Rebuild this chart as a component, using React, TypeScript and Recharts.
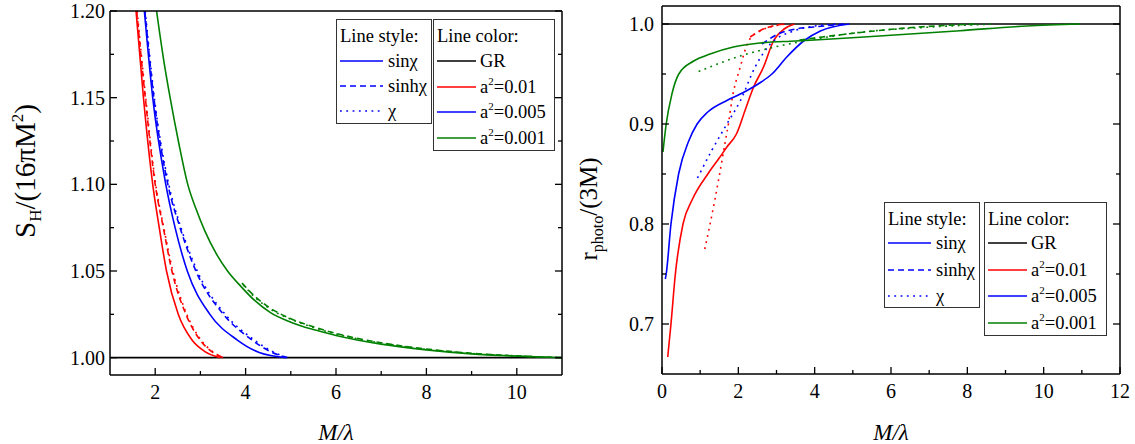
import React from "react";
import { LineChart, Line, XAxis, YAxis, Label } from "recharts";

const FONT = "'Liberation Serif', 'Times New Roman', serif";
const RED = "#ff0000";
const BLUE = "#0000ff";
const GREEN = "#008000";
const DASH = "6 4";
const DOT = "1.8 4.5";

// ---- left panel: S_H/(16 pi M^2) vs M/lambda ----
const areaXMajor = [2, 4, 6, 8, 10];
const areaXMinor = [3, 5, 7, 9];
const areaYMajor = [1.0, 1.05, 1.1, 1.15, 1.2];
const areaYMinor = [1.025, 1.075, 1.125, 1.175];

const areaGR = [[1, 1], [11, 1]];
const areaRedSin = [[1.576, 1.2], [1.74, 1.15], [1.945, 1.1], [2.09, 1.075], [2.25, 1.05], [2.51, 1.025], [2.81, 1.0103], [3.1, 1.0035], [3.44, 1.0]];
const areaRedSinh = [[1.59, 1.2], [1.78, 1.15], [2.0, 1.1], [2.18, 1.075], [2.37, 1.05], [2.68, 1.025], [2.97, 1.011], [3.25, 1.0035], [3.51, 1.0]];
const areaRedChi = [[1.6, 1.2], [1.79, 1.15], [2.01, 1.1], [2.19, 1.075], [2.39, 1.05], [2.7, 1.025], [2.99, 1.011], [3.27, 1.0035], [3.5, 1.0]];
const areaBlueSin = [[1.76, 1.2], [1.945, 1.15], [2.22, 1.102], [2.44, 1.075], [2.71, 1.05], [3.21, 1.025], [3.81, 1.0103], [4.3, 1.003], [4.91, 1.0]];
const areaBlueSinh = [[1.77, 1.2], [1.97, 1.15], [2.28, 1.1], [2.55, 1.075], [2.9, 1.05], [3.51, 1.025], [4.1, 1.011], [4.55, 1.0035], [4.93, 1.0]];
const areaBlueChi = [[1.78, 1.2], [1.98, 1.15], [2.3, 1.1], [2.57, 1.075], [2.93, 1.05], [3.55, 1.025], [4.15, 1.011], [4.6, 1.0035], [4.92, 1.0]];
const areaGreenSin = [[2.03, 1.2], [2.18, 1.173], [2.33, 1.15], [2.52, 1.124], [2.72, 1.1], [2.9, 1.086], [3.1, 1.073], [3.35, 1.06], [3.6, 1.05], [3.9, 1.041], [4.2, 1.033], [4.55, 1.026], [5.0, 1.0205], [5.5, 1.0162], [6.0, 1.0128], [7.0, 1.0078], [8.0, 1.0045], [9.0, 1.0022], [10.0, 1.0009], [11.0, 1.0]];
const areaGreenSinh = [[3.92, 1.043], [4.2, 1.0355], [4.55, 1.0285], [5.0, 1.0225], [5.5, 1.0178], [6.0, 1.014], [7.0, 1.0086], [8.0, 1.005], [9.0, 1.0025], [10.0, 1.001], [11.0, 1.0]];
const areaGreenChi = [[3.95, 1.042], [4.2, 1.035], [4.55, 1.028], [5.0, 1.0222], [5.5, 1.0175], [6.0, 1.0137], [7.0, 1.0084], [8.0, 1.0048], [9.0, 1.0024], [10.0, 1.001], [11.0, 1.0]];

// ---- right panel: r_photo/(3M) vs M/lambda ----
const photoXMajor = [0, 2, 4, 6, 8, 10, 12];
const photoXMinor = [1, 3, 5, 7, 9, 11];
const photoYMajor = [0.7, 0.8, 0.9, 1.0];
const photoYMinor = [0.75, 0.85, 0.95];

const photoGR = [[0, 1], [12, 1]];
const photoRedSin = [[0.15, 0.667], [0.235, 0.7], [0.35, 0.75], [0.55, 0.8], [0.8, 0.825], [1.2, 0.85], [1.5, 0.866], [1.7, 0.877], [1.95, 0.89], [2.18, 0.914], [2.4, 0.937], [2.66, 0.957], [2.92, 0.983], [3.2, 0.995], [3.47, 1.0]];
const photoRedSinh = [[2.31, 0.987], [2.6, 0.994], [2.9, 0.998], [3.25, 1.0]];
const photoRedChi = [[1.12, 0.775], [1.26, 0.8], [1.51, 0.85], [1.66, 0.883], [1.74, 0.9], [1.83, 0.9235], [2.05, 0.957], [2.27, 0.983], [2.57, 0.993], [3.27, 1.0]];
const photoBlueSin = [[0.087, 0.745], [0.11, 0.75], [0.235, 0.8], [0.435, 0.85], [0.7, 0.883], [0.92, 0.9], [1.2, 0.912], [1.7, 0.9235], [2.0, 0.929], [2.23, 0.9335], [2.6, 0.942], [2.88, 0.95], [3.27, 0.967], [3.71, 0.983], [4.15, 0.993], [4.91, 1.0]];
const photoBlueSinh = [[2.62, 0.98], [3.1, 0.991], [3.5, 0.995], [3.97, 0.997], [4.8, 1.0]];
const photoBlueChi = [[0.93, 0.846], [1.31, 0.874], [1.7, 0.9], [2.05, 0.923], [2.44, 0.957], [2.84, 0.98], [3.45, 0.993], [4.0, 0.998], [4.6, 1.0]];
const photoGreenSin = [[0.025, 0.872], [0.11, 0.9], [0.26, 0.93], [0.44, 0.95], [0.83, 0.963], [1.26, 0.97], [1.87, 0.977], [2.57, 0.981], [3.5, 0.983], [5.19, 0.9867], [7.81, 0.9933], [9.56, 0.998], [10.95, 1.0]];
const photoGreenSinh = [[3.6, 0.984], [4.2, 0.987], [5.19, 0.9915], [6.93, 0.9975], [8.3, 1.0]];
const photoGreenChi = [[0.96, 0.9525], [2.05, 0.968], [2.92, 0.9767], [3.88, 0.984], [5.19, 0.9917], [6.93, 0.9967], [8.68, 1.0]];

// legend text
const styleNames = ["sinχ", "sinhχ", "χ"];
const couplings = ["0.01", "0.005", "0.001"];

const pts = (arr: number[][]) => arr.map(([x, y]) => ({ x, y }));

type Series = { data: number[][]; color: string; dash?: string };

const areaSeries: Series[] = [
  { data: areaGR, color: "#000" },
  { data: areaRedSinh, color: RED, dash: DASH },
  { data: areaRedChi, color: RED, dash: DOT },
  { data: areaRedSin, color: RED },
  { data: areaBlueSinh, color: BLUE, dash: DASH },
  { data: areaBlueChi, color: BLUE, dash: DOT },
  { data: areaBlueSin, color: BLUE },
  { data: areaGreenSinh, color: GREEN, dash: DASH },
  { data: areaGreenChi, color: GREEN, dash: DOT },
  { data: areaGreenSin, color: GREEN },
];

const photoSeries: Series[] = [
  { data: photoGR, color: "#000" },
  { data: photoRedSinh, color: RED, dash: DASH },
  { data: photoRedChi, color: RED, dash: DOT },
  { data: photoRedSin, color: RED },
  { data: photoBlueSinh, color: BLUE, dash: DASH },
  { data: photoBlueChi, color: BLUE, dash: DOT },
  { data: photoBlueSin, color: BLUE },
  { data: photoGreenSinh, color: GREEN, dash: DASH },
  { data: photoGreenChi, color: GREEN, dash: DOT },
  { data: photoGreenSin, color: GREEN },
];

const AXIS = { stroke: "#000", strokeWidth: 1.5 };

// draws inward tick marks (long for majors, short for minors) plus the label
const tickMark =
  (side: "bottom" | "top" | "left" | "right", majors: number[], fmt?: (v: number) => string, gap = 0) =>
  (props: any) => {
    const { x, y, payload } = props;
    const v = payload.value;
    const major = majors.includes(v);
    const len = major ? 7 : 4;
    let x2 = x;
    let y2 = y;
    if (side === "bottom") y2 = y - len;
    if (side === "top") y2 = y + len;
    if (side === "left") x2 = x + len;
    if (side === "right") x2 = x - len;
    return (
      <g>
        <line x1={x} y1={y} x2={x2} y2={y2} stroke="#000" strokeWidth={1.3} />
        {fmt && major && side === "bottom" && (
          <text x={x} y={y + gap} dy="0.71em" textAnchor="middle" fontFamily={FONT} fontSize={20} fill="#000">
            {fmt(v)}
          </text>
        )}
        {fmt && major && side === "left" && (
          <text x={x - gap} y={y} dy="0.35em" textAnchor="end" fontFamily={FONT} fontSize={20} fill="#000">
            {fmt(v)}
          </text>
        )}
      </g>
    );
  };

const xTitle = (props: any) => {
  const vb = props.viewBox;
  return (
    <text
      x={vb.x + vb.width / 2}
      y={vb.y + vb.height - 12}
      dominantBaseline="central"
      textAnchor="middle"
      fontFamily={FONT}
      fontStyle="italic"
      fontSize={23}
      fill="#000"
    >
      M/λ
    </text>
  );
};

const areaTitle = (props: any) => {
  const vb = props.viewBox;
  const cx = vb.x + 35;
  const cy = vb.y + vb.height / 2 - 22;
  return (
    <text x={cx} y={cy} transform={`rotate(-90 ${cx} ${cy})`} textAnchor="middle" fontFamily={FONT} fontSize={29} fill="#000">
      S
      <tspan dy={6} fontSize={17}>H</tspan>
      <tspan dy={-6}>/(16πM</tspan>
      <tspan dy={-12} fontSize={17}>2</tspan>
      <tspan dy={12}>)</tspan>
    </text>
  );
};

const photoTitle = (props: any) => {
  const vb = props.viewBox;
  const cx = vb.x + 27;
  const cy = vb.y + vb.height / 2 + 19;
  return (
    <text x={cx} y={cy} transform={`rotate(-90 ${cx} ${cy})`} textAnchor="middle" fontFamily={FONT} fontSize={25} fill="#000">
      r
      <tspan dy={6} fontSize={16}>photo</tspan>
      <tspan dy={-6}>/(3M)</tspan>
    </text>
  );
};

type PanelProps = {
  width: number;
  height: number;
  margin: { top: number; right: number; bottom: number; left: number };
  xDomain: number[];
  xMajor: number[];
  xMinor: number[];
  yDomain: number[];
  yMajor: number[];
  yMinor: number[];
  yFmt: (v: number) => string;
  xAxisHeight: number;
  yAxisWidth: number;
  yGap: number;
  series: Series[];
  yTitle: (p: any) => React.ReactElement;
};

function Panel(p: PanelProps) {
  const xTicks = [...p.xMajor, ...p.xMinor].sort((a, b) => a - b);
  const yTicks = [...p.yMajor, ...p.yMinor].sort((a, b) => a - b);
  return (
    <LineChart width={p.width} height={p.height} margin={p.margin}>
      <XAxis
        xAxisId="b"
        type="number"
        dataKey="x"
        domain={p.xDomain}
        ticks={xTicks}
        interval={0}
        allowDataOverflow
        height={p.xAxisHeight}
        tickLine={false}
        tickSize={0}
        tickMargin={0}
        axisLine={AXIS}
        tick={tickMark("bottom", p.xMajor, (v) => String(v), 10)}
      >
        <Label content={xTitle} />
      </XAxis>
      <XAxis
        xAxisId="t"
        orientation="top"
        mirror
        type="number"
        domain={p.xDomain}
        ticks={xTicks}
        interval={0}
        allowDataOverflow
        height={1}
        tickLine={false}
        tickSize={0}
        tickMargin={0}
        axisLine={AXIS}
        tick={tickMark("top", p.xMajor)}
      />
      <YAxis
        yAxisId="l"
        type="number"
        domain={p.yDomain}
        ticks={yTicks}
        interval={0}
        allowDataOverflow
        width={p.yAxisWidth}
        tickLine={false}
        tickSize={0}
        tickMargin={0}
        axisLine={AXIS}
        tick={tickMark("left", p.yMajor, p.yFmt, p.yGap)}
      >
        <Label content={p.yTitle} />
      </YAxis>
      <YAxis
        yAxisId="r"
        orientation="right"
        mirror
        type="number"
        domain={p.yDomain}
        ticks={yTicks}
        interval={0}
        allowDataOverflow
        width={1}
        tickLine={false}
        tickSize={0}
        tickMargin={0}
        axisLine={AXIS}
        tick={tickMark("right", p.yMajor)}
      />
      {p.series.map((s, i) => (
        <Line
          key={i}
          xAxisId="b"
          yAxisId="l"
          data={pts(s.data)}
          dataKey="y"
          type="monotone"
          stroke={s.color}
          strokeWidth={1.6}
          strokeDasharray={s.dash}
          dot={false}
          activeDot={false}
          isAnimationActive={false}
        />
      ))}
    </LineChart>
  );
}

type Row = { label: React.ReactNode; color: string; dash?: string };

function LegendBox(props: {
  left: number;
  top: number;
  width: number;
  height: number;
  title: string;
  rows: Row[];
  first: number;
  step: number;
  lineLen: number;
  textLeft: number;
}) {
  return (
    <div
      style={{
        position: "absolute",
        left: props.left,
        top: props.top,
        width: props.width,
        height: props.height,
        border: "1px solid #333",
        background: "#fff",
        boxSizing: "border-box",
        fontFamily: FONT,
        fontSize: 18.5,
        color: "#000",
        lineHeight: 1,
      }}
    >
      <div style={{ position: "absolute", left: 3, top: 16, transform: "translateY(-50%)", whiteSpace: "nowrap" }}>
        {props.title}
      </div>
      {props.rows.map((r, i) => {
        const cy = props.first + i * props.step;
        return (
          <React.Fragment key={i}>
            <svg
              width={props.lineLen}
              height={4}
              style={{ position: "absolute", left: 3, top: cy - 2 }}
            >
              <line x1={0} y1={2} x2={props.lineLen} y2={2} stroke={r.color} strokeWidth={1.6} strokeDasharray={r.dash} />
            </svg>
            <div
              style={{
                position: "absolute",
                left: props.textLeft,
                top: cy,
                transform: "translateY(-50%)",
                whiteSpace: "nowrap",
              }}
            >
              {r.label}
            </div>
          </React.Fragment>
        );
      })}
    </div>
  );
}

const styleRows: Row[] = [
  { label: styleNames[0], color: BLUE },
  { label: styleNames[1], color: BLUE, dash: DASH },
  { label: styleNames[2], color: BLUE, dash: DOT },
];

const coupling = (c: string) => (
  <span>
    a<span style={{ fontSize: 11, position: "relative", top: -8 }}>2</span>={c}
  </span>
);

const colorRows: Row[] = [
  { label: "GR", color: "#000" },
  { label: coupling(couplings[0]), color: RED },
  { label: coupling(couplings[1]), color: BLUE },
  { label: coupling(couplings[2]), color: GREEN },
];

export default function App() {
  return (
    <div style={{ position: "absolute", left: 0, top: 0, width: 1135, height: 444, background: "#fff" }}>
      <div style={{ position: "absolute", left: 0, top: 0 }}>
        <Panel
          width={570}
          height={444}
          margin={{ top: 11, right: 8, bottom: 0, left: 0 }}
          xDomain={[1, 11]}
          xMajor={areaXMajor}
          xMinor={areaXMinor}
          yDomain={[0.99, 1.2]}
          yMajor={areaYMajor}
          yMinor={areaYMinor}
          yFmt={(v) => v.toFixed(2)}
          xAxisHeight={69}
          yAxisWidth={110}
          yGap={5}
          series={areaSeries}
          yTitle={areaTitle}
        />
      </div>
      <div style={{ position: "absolute", left: 570, top: 0 }}>
        <Panel
          width={565}
          height={444}
          margin={{ top: 6, right: 15, bottom: 0, left: 0 }}
          xDomain={[0, 12]}
          xMajor={photoXMajor}
          xMinor={photoXMinor}
          yDomain={[0.65, 1.018]}
          yMajor={photoYMajor}
          yMinor={photoYMinor}
          yFmt={(v) => v.toFixed(1)}
          xAxisHeight={70}
          yAxisWidth={92}
          yGap={8}
          series={photoSeries}
          yTitle={photoTitle}
        />
      </div>
      <LegendBox left={336} top={19} width={96} height={105} title="Line style:" rows={styleRows} first={40.5} step={25.3} lineLen={43} textLeft={51} />
      <LegendBox left={433} top={19} width={122} height={132} title="Line color:" rows={colorRows} first={41} step={25.5} lineLen={39} textLeft={46} />
      <LegendBox left={884} top={202} width={96} height={106} title="Line style:" rows={styleRows} first={40} step={26.5} lineLen={43} textLeft={51} />
      <LegendBox left={984} top={202} width={123} height={134} title="Line color:" rows={colorRows} first={40} step={26.5} lineLen={39} textLeft={46} />
    </div>
  );
}
